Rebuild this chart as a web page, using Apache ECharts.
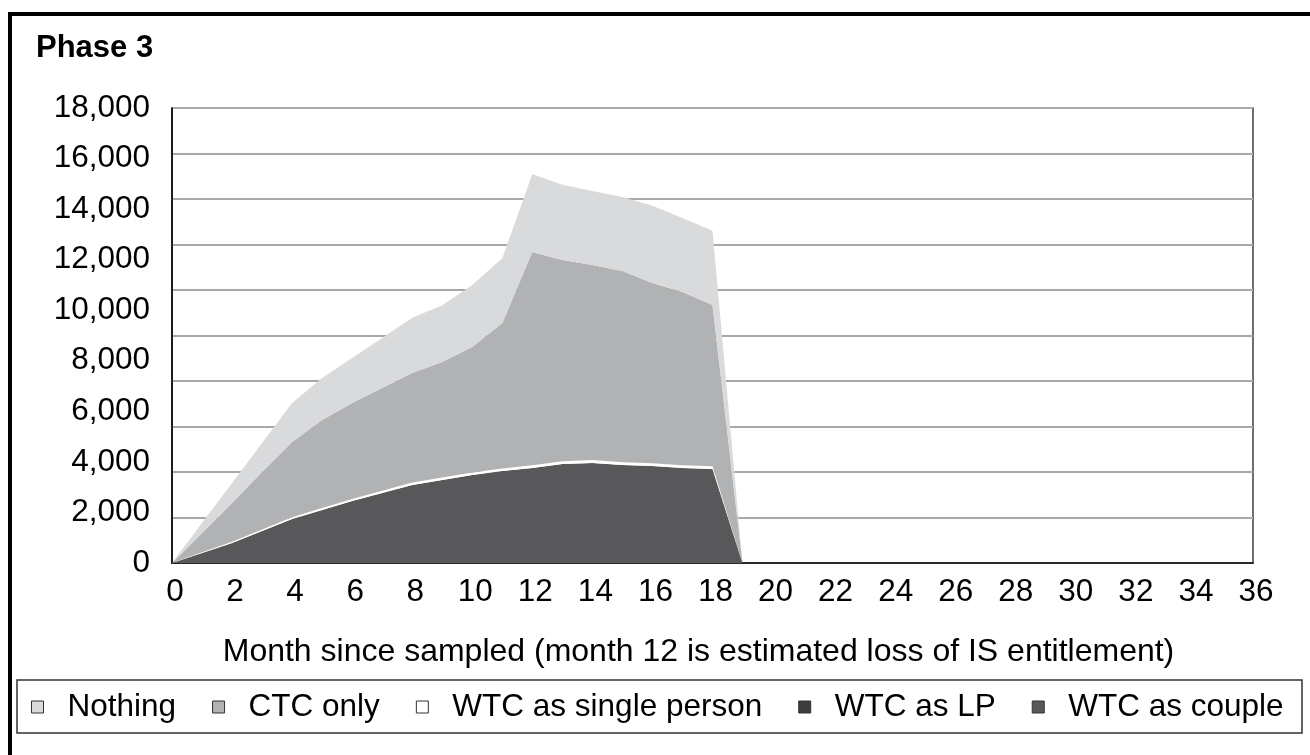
<!DOCTYPE html>
<html>
<head>
<meta charset="utf-8">
<script src="https://cdn.jsdelivr.net/npm/echarts@6/dist/echarts.min.js"></script>
<style>
  html, body { margin: 0; padding: 0; background: #fff; }
  #chart { width: 1310px; height: 755px; }
</style>
</head>
<body>
<div id="chart"></div>
<script>
// months 0..36 on the x axis
var months = [];
for (var m = 0; m <= 36; m++) months.push(String(m));

// values (months 0..35; 36 has no point)
var nothing     = [0, 400, 790, 1150, 1540, 1660, 1780, 1980, 2180, 2250, 2450, 2570, 3090, 2970, 2930, 2930, 3050, 2930, 2930, 0, 0,0,0,0,0,0,0,0,0,0,0,0,0,0,0,0];
var ctcOnly     = [0, 760, 1530, 2270, 2980, 3480, 3800, 4060, 4340, 4570, 4970, 5750, 8430, 7960, 7720, 7560, 7130, 6850, 6380, 0, 0,0,0,0,0,0,0,0,0,0,0,0,0,0,0,0];
var wtcSingle   = [0, 30, 50, 60, 70, 80, 80, 90, 90, 100, 100, 100, 110, 110, 110, 110, 110, 110, 110, 0, 0,0,0,0,0,0,0,0,0,0,0,0,0,0,0,0];
var wtcLP       = [0, 0, 0, 0, 0, 0, 0, 0, 0, 0, 0, 0, 0, 0, 0, 0, 0, 0, 0, 0, 0,0,0,0,0,0,0,0,0,0,0,0,0,0,0,0];
var wtcCouple   = [0, 400, 790, 1270, 1740, 2100, 2450, 2770, 3090, 3280, 3480, 3640, 3760, 3920, 3960, 3880, 3840, 3760, 3720, 0, 0,0,0,0,0,0,0,0,0,0,0,0,0,0,0,0];

var legendNames = ['Nothing', 'CTC only', 'WTC as single person', 'WTC as LP', 'WTC as couple'];

var font = 'Liberation Sans, Arial, sans-serif';

function areaSeries(name, data, color) {
    return {
        name: name,
        type: 'line',
        stack: 'total',
        data: data,
        showSymbol: false,
        symbol: 'none',
        lineStyle: { width: 0 },
        itemStyle: { color: color },
        areaStyle: { color: color, opacity: 1 },
        emphasis: { disabled: true }
    };
}

var myChart = echarts.init(document.getElementById('chart'));

var option = {
    animation: false,
    backgroundColor: '#fff',
    title: {
        text: 'Phase 3',
        left: 36,
        top: 33,
        padding: 0,
        textStyle: { fontFamily: font, fontSize: 31, fontWeight: 'bold', color: '#000' }
    },
    grid: {
        left: 172,
        top: 108,
        right: 57,
        bottom: 192,
        show: true,
        borderColor: '#404040',
        borderWidth: 1.5,
        outerBoundsMode: 'none'
    },
    legend: {
        data: legendNames,
        left: 31,
        top: 691,
        padding: 0,
        itemWidth: 12,
        itemHeight: 12,
        itemGap: 36,
        icon: 'rect',
        itemStyle: { borderColor: '#333', borderWidth: 1 },
        textStyle: { fontFamily: font, fontSize: 31.5, color: '#000', padding: [0, 0, 0, 19] }
    },
    xAxis: {
        type: 'category',
        boundaryGap: false,
        data: months,
        name: 'Month since sampled (month 12 is estimated loss of IS entitlement)',
        nameLocation: 'middle',
        nameGap: 73,
        nameTextStyle: { fontFamily: font, fontSize: 32, color: '#000', padding: [0, 28, 0, 0] },
        axisTick: { show: false },
        axisLine: { lineStyle: { color: '#000', width: 1.5 } },
        axisLabel: {
            interval: 1,
            margin: 13,
            fontFamily: font,
            fontSize: 31.5,
            color: '#000',
            padding: [0, 0, 0, 6]
        },
        splitLine: { show: false }
    },
    yAxis: [
        {
            type: 'value',
            min: 0,
            max: 18000,
            interval: 2000,
            axisLine: { show: true, lineStyle: { color: '#000', width: 1.5 } },
            axisTick: { show: false },
            splitLine: { show: false },
            axisLabel: {
                margin: 22,
                fontFamily: font,
                fontSize: 31.5,
                color: '#000',
                formatter: function (v) { return v.toLocaleString('en-US'); }
            }
        },
        {
            // gridlines as in the picture
            type: 'value',
            position: 'left',
            min: 0,
            max: 20000,
            interval: 2000,
            axisLine: { show: false },
            axisTick: { show: false },
            axisLabel: { show: false },
            splitLine: { show: true, lineStyle: { color: '#a8a8a8', width: 2 } }
        }
    ],
    graphic: [
        {
            type: 'rect',
            shape: { x: 10, y: 14, width: 1400, height: 900 },
            style: { fill: 'none', stroke: '#000', lineWidth: 4 },
            silent: true
        },
        {
            type: 'rect',
            shape: { x: 17, y: 680, width: 1285, height: 53 },
            style: { fill: 'none', stroke: '#333', lineWidth: 1.5 },
            silent: true
        }
    ],
    series: [
        areaSeries('WTC as couple', wtcCouple, '#58585a'),
        areaSeries('WTC as LP', wtcLP, '#3c3c3c'),
        areaSeries('WTC as single person', wtcSingle, '#ffffff'),
        areaSeries('CTC only', ctcOnly, '#b1b2b4'),
        areaSeries('Nothing', nothing, '#d9dadc')
    ]
};

myChart.setOption(option);
</script>
</body>
</html>
